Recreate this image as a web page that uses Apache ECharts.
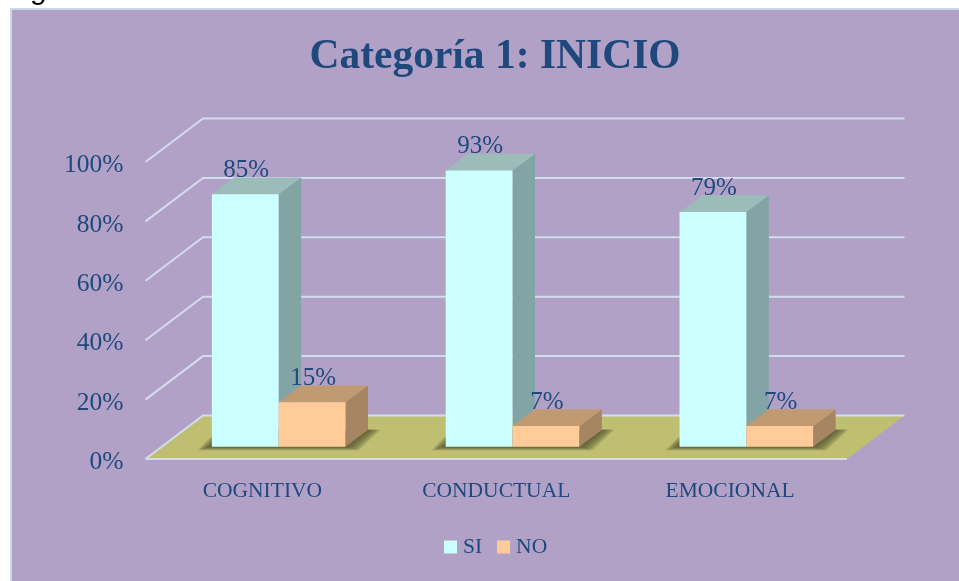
<!DOCTYPE html>
<html>
<head>
<meta charset="utf-8">
<style>html,body{margin:0;padding:0;background:#fff}#c{width:959px;height:581px}</style>
<script src="https://cdn.jsdelivr.net/npm/echarts@6/dist/echarts.min.js"></script>
</head>
<body>
<div id="c"></div>
<script>
var categories = ['COGNITIVO', 'CONDUCTUAL', 'EMOCIONAL'];
var siValues = [85, 93, 79];
var noValues = [15, 7, 7];
var axisTicks = [0, 20, 40, 60, 80, 100];

var FONT = '"Liberation Serif", serif';
var TEXT = '#1f497d';
var GRID = '#d3dcec';
var FLOOR = '#bfbf72';
var WALL_DX = 57.5, WALL_DY = -43.5;
var BAR_OFF_X = 16.25, BAR_OFF_Y = -12.3;
var DEPTH_X = 22.5, DEPTH_Y = -16.7;
var SI_STYLE = {front: '#ccffff', top: '#9bbcb9', side: '#82a4a4'};
var NO_STYLE = {front: '#ffcc99', top: '#c09a70', side: '#a58562'};

function wall(params, api) {
  var v = api.value(0);
  var cs = params.coordSys;
  var y = api.coord([0, v])[1];
  var l = cs.x, r = cs.x + cs.width;
  var kids = [];
  var lineStyle = {stroke: GRID, lineWidth: 2, fill: null};
  if (v === 0) {
    kids.push({type: 'polygon', shape: {points: [[l, y], [r, y], [r + WALL_DX, y + WALL_DY], [l + WALL_DX, y + WALL_DY]]},
      style: {fill: FLOOR}});
    kids.push({type: 'polyline', shape: {points: [[r, y], [l, y]]}, style: lineStyle});
  }
  kids.push({type: 'polyline', shape: {points: [[l, y], [l + WALL_DX, y + WALL_DY], [r + WALL_DX, y + WALL_DY]]}, style: lineStyle});
  return {type: 'group', children: kids};
}

function bar(side, colors) {
  return function (params, api) {
    var idx = api.value(0), val = api.value(1);
    var w = api.size([1, 0])[0] / 3.5;
    var c = api.coord([idx, val]);
    var b = api.coord([idx, 0]);
    var cx = c[0] + BAR_OFF_X;
    var x0 = side < 0 ? cx - w : cx;
    var x1 = x0 + w;
    var yT = c[1] + BAR_OFF_Y, yB = b[1] + BAR_OFF_Y;
    var kids = [];
    if (side < 0) {
      for (var i = 5; i >= 0; i--) {
        var ex = 2.4 * i, ey = 0.7 * i, xR = cx + w;
        kids.push({type: 'polygon', shape: {points: [[x0 - 2 - ex, yB + ey], [xR + 1 + ex, yB + ey], [xR + 23 + ex, yB - 17], [x0 + 18 - ex, yB - 17]]},
          style: {fill: 'rgba(80,80,45,0.24)'}});
      }
    }
    kids.push({type: 'polygon', shape: {points: [[x1, yT], [x1 + DEPTH_X, yT + DEPTH_Y], [x1 + DEPTH_X, yB + DEPTH_Y], [x1, yB]]}, style: {fill: colors.side}});
    kids.push({type: 'polygon', shape: {points: [[x0, yT], [x1, yT], [x1 + DEPTH_X, yT + DEPTH_Y], [x0 + DEPTH_X, yT + DEPTH_Y]]}, style: {fill: colors.top}});
    kids.push({type: 'rect', shape: {x: x0, y: yT, width: w, height: yB - yT}, style: {fill: colors.front}});
    kids.push({type: 'text', style: {text: val + '%', x: (x0 + x1) / 2 + 1, y: yT + DEPTH_Y - 7, align: 'center', verticalAlign: 'middle',
      fill: TEXT, font: '25px ' + FONT}});
    return {type: 'group', children: kids};
  };
}

var chart = echarts.init(document.getElementById('c'), null, {renderer: 'canvas'});
chart.setOption({
  animation: false,
  backgroundColor: '#ffffff',
  graphic: [
    {type: 'rect', z: -10, shape: {x: 11, y: 9, width: 960, height: 590}, style: {fill: '#b2a1c7', stroke: '#c9d8ea', lineWidth: 2}},
    {type: 'text', z: -10, left: 30, top: -24, style: {text: 'g', fill: '#000', font: '30px "Liberation Sans", sans-serif'}}
  ],
  title: {
    text: 'Categoría 1: INICIO', left: 490, top: 31, textAlign: 'center',
    textStyle: {color: TEXT, fontFamily: FONT, fontWeight: 'bold', fontSize: 41.5}
  },
  legend: {
    data: ['SI', 'NO'], left: 439, top: 531, icon: 'rect', itemWidth: 13, itemHeight: 13, itemGap: 15,
    textStyle: {color: TEXT, fontFamily: FONT, fontSize: 21.5, padding: [0, 0, 0, 1]}
  },
  grid: {left: 145.5, width: 701.5, top: 162, height: 297, containLabel: false},
  xAxis: {
    type: 'category', data: categories,
    axisLine: {show: false}, axisTick: {show: false}, splitLine: {show: false},
    axisLabel: {color: TEXT, fontFamily: FONT, fontSize: 21.5, margin: 21}
  },
  yAxis: {
    type: 'value', min: axisTicks[0], max: axisTicks[axisTicks.length - 1], interval: 20,
    axisLine: {show: false}, axisTick: {show: false}, splitLine: {show: false},
    axisLabel: {color: TEXT, fontFamily: FONT, fontSize: 25.5, margin: 22, verticalAlign: 'top', lineHeight: 7, formatter: '{value}%'}
  },
  series: [
    {name: 'walls', type: 'custom', silent: true, renderItem: wall, encode: {y: 0}, data: axisTicks.map(function (t) { return [t]; })},
    {name: 'SI', type: 'custom', renderItem: bar(-1, SI_STYLE), itemStyle: {color: SI_STYLE.front}, encode: {x: 0, y: 1},
      data: siValues.map(function (v, i) { return [i, v]; })},
    {name: 'NO', type: 'custom', renderItem: bar(1, NO_STYLE), itemStyle: {color: NO_STYLE.front}, encode: {x: 0, y: 1},
      data: noValues.map(function (v, i) { return [i, v]; })}
  ]
});
</script>
</body>
</html>
